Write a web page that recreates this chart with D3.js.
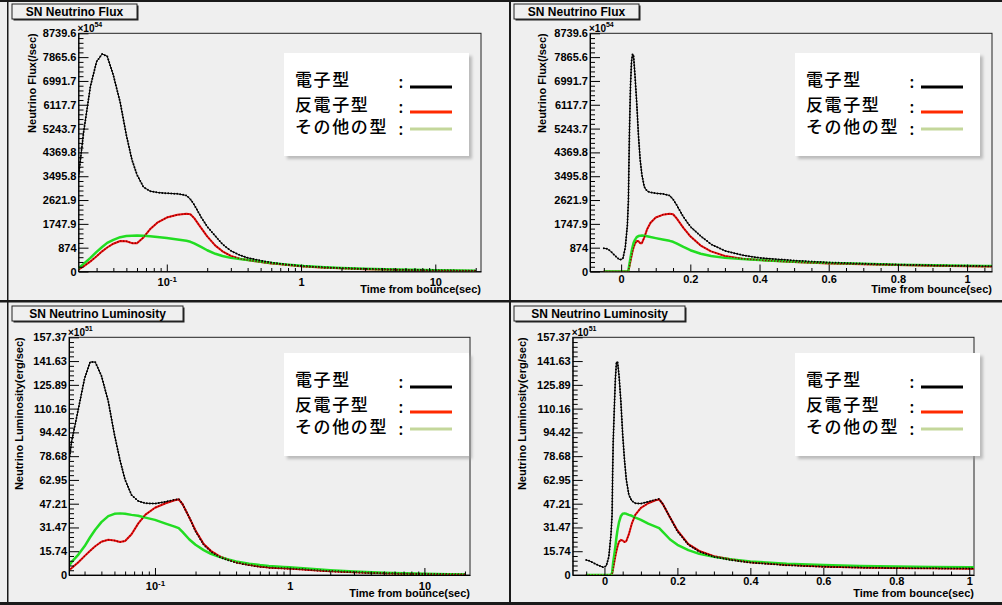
<!DOCTYPE html>
<html>
<head>
<meta charset="utf-8">
<script src="https://cdn.jsdelivr.net/npm/d3@7"></script>
<style>
  body { margin: 0; background: #efefef; }
  svg { display: block; font-family: "Liberation Sans", Arial, sans-serif; }
</style>
</head>
<body>
<div id="chart"></div>
<script>
// ---- data ----
// time after bounce (sec), shared by every series
const times = [-0.05, -0.04, -0.03, -0.02, -0.01, -0.003,
  0.005, 0.012, 0.018, 0.021, 0.0225, 0.024, 0.027, 0.030, 0.033, 0.036,
  0.040, 0.045, 0.050, 0.055, 0.060, 0.067, 0.075, 0.085, 0.10, 0.12,
  0.14, 0.15, 0.16, 0.18, 0.20, 0.23, 0.26, 0.30, 0.35, 0.40,
  0.50, 0.60, 0.70, 0.80, 0.90, 1.0, 1.05, 1.5, 2, 3, 5, 7, 10, 15, 20];

// neutrino flux (x10^54 /sec)
const fluxNue = [850, 830, 740, 610, 490, 430,
  470, 880, 1700, 2600, 3900, 5100, 6800, 7700, 7980, 7900,
  7200, 6200, 5000, 4100, 3550, 3100, 2950, 2900, 2870, 2850,
  2790, 2650, 2450, 2000, 1650, 1300, 1000, 760, 600, 500,
  400, 330, 285, 250, 225, 205, 195, 150, 125, 95, 70, 55, 42, 30, 25];
const fluxNuebar = [0, 0, 0, 0, 0, 0,
  0, 0, 0, 30, 100, 190, 370, 560, 740, 880,
  1020, 1120, 1110, 1040, 1040, 1250, 1550, 1790, 1980, 2080,
  2120, 2100, 1960, 1600, 1290, 950, 740, 570, 470, 420,
  345, 295, 262, 235, 212, 192, 185, 140, 115, 85, 60, 47, 36, 26, 21];
const fluxNux = [0, 0, 0, 0, 0, 0,
  0, 0, 0, 40, 160, 280, 500, 720, 900, 1050,
  1160, 1260, 1300, 1315, 1318, 1312, 1295, 1265, 1225, 1175,
  1125, 1090, 1030, 900, 780, 650, 570, 500, 455, 420,
  360, 315, 280, 252, 228, 208, 200, 160, 132, 102, 76, 60, 46, 35, 28];

// neutrino luminosity (x10^51 erg/sec)
const lumNue = [10, 9.2, 8, 6.8, 5.8, 5,
  6, 12, 27, 40, 68, 88, 110, 130, 141, 141,
  132, 115, 93, 76, 63, 53, 49, 47.5, 47.3, 48.5,
  49.8, 50.3, 47, 38, 29, 20, 15.5, 12, 9.8, 8.2,
  6.5, 5.5, 4.9, 4.6, 4.4, 4.3, 4.2, 3.2, 2.5, 1.8, 1.1, 0.8, 0.6, 0.4, 0.3];
const lumNuebar = [0, 0, 0, 0, 0, 0,
  0, 0, 0, 1, 2.5, 4.5, 8.5, 12.5, 16, 19,
  22, 23.3, 22.8, 21.8, 22.5, 27, 34, 40, 44.5, 47.5,
  49.5, 50, 47, 38, 29.5, 20.5, 16, 12.5, 10.2, 8.5,
  6.8, 5.7, 5.0, 4.6, 4.4, 4.2, 4.1, 3.2, 2.5, 1.8, 1.2, 0.85, 0.6, 0.42, 0.32];
const lumNux = [0, 0, 0, 0, 0, 0,
  0, 0, 0, 1.5, 5, 8.5, 13.5, 19, 25, 30,
  35, 39, 40.5, 40.8, 40.5, 39.8, 39.2, 38, 36.5, 34,
  32, 31, 28.5, 23.5, 20, 16.5, 14, 12, 10.3, 9.0,
  7.5, 6.6, 6.0, 5.6, 5.3, 5.1, 5.0, 4.0, 3.2, 2.3, 1.5, 1.1, 0.8, 0.55, 0.4];

// tick labels
const fluxTickLabels = ["0", "874", "1747.9", "2621.9", "3495.8", "4369.8",
  "5243.7", "6117.7", "6991.7", "7865.6", "8739.6"];
const lumTickLabels = ["0", "15.74", "31.47", "47.21", "62.95", "78.68",
  "94.42", "110.16", "125.89", "141.63", "157.37"];
const linTimeTicks = [0, 0.2, 0.4, 0.6, 0.8, 1];
const logTimeTicks = [0.1, 1, 10];

const seriesNames = ["電子型", "反電子型", "その他の型"];
const fluxExp = "54", lumExp = "51";

// ---- layout ----
const W = 1002, H = 605;
const svg = d3.select("#chart").append("svg")
  .attr("width", W).attr("height", H);
svg.append("rect").attr("width", W).attr("height", H).attr("fill", "#efefef");

const defs = svg.append("defs");
const blur = defs.append("filter").attr("id", "shadow")
  .attr("x", "-10%").attr("y", "-10%").attr("width", "130%").attr("height", "130%");
blur.append("feGaussianBlur").attr("stdDeviation", 1.5);

// pad borders (dark edges of the 2x2 canvas)
[[0, 0, W, 2], [0, 300, W, 2.5], [0, 602, W, 3], [7, 0, 1.5, H], [509, 0, 2, H]]
  .forEach(r => svg.append("rect").attr("x", r[0]).attr("y", r[1])
    .attr("width", r[2]).attr("height", r[3]).attr("fill", "#1a1a1a"));

const panels = [
  { id: "tl", log: true, xDomain: [0.022, 21.9], x0: 78.5, x1: 481, y0: 33.3, y1: 271.5,
    values: [fluxNue, fluxNuebar, fluxNux], labels: fluxTickLabels, exp: fluxExp,
    title: "SN Neutrino Flux", titleBox: [12, 4, 125, 15],
    yTitle: "Neutrino Flux(/sec)", yTitleX: 32, legend: [284, 53], xLabBase: 286, xTitleBase: 293 },
  { id: "tr", log: false, xDomain: [-0.090, 1.072], x0: 590, x1: 992, y0: 33.3, y1: 271.5,
    values: [fluxNue, fluxNuebar, fluxNux], labels: fluxTickLabels, exp: fluxExp,
    title: "SN Neutrino Flux", titleBox: [514, 4, 125, 15],
    yTitle: "Neutrino Flux(/sec)", yTitleX: 542, legend: [795, 53], xLabBase: 283, xTitleBase: 293 },
  { id: "bl", log: true, xDomain: [0.023, 21.8], x0: 69, x1: 470, y0: 337.3, y1: 575,
    values: [lumNue, lumNuebar, lumNux], labels: lumTickLabels, exp: lumExp,
    title: "SN Neutrino Luminosity", titleBox: [12, 306, 171, 15],
    yTitle: "Neutrino Luminosity(erg/sec)", yTitleX: 19, legend: [284, 353], xLabBase: 590, xTitleBase: 597 },
  { id: "br", log: false, xDomain: [-0.087, 1.013], x0: 572.7, x1: 974, y0: 337.3, y1: 575,
    values: [lumNue, lumNuebar, lumNux], labels: lumTickLabels, exp: lumExp,
    title: "SN Neutrino Luminosity", titleBox: [514, 306, 171, 15],
    yTitle: "Neutrino Luminosity(erg/sec)", yTitleX: 522, legend: [795, 353], xLabBase: 585, xTitleBase: 597 }
];

function styleAxis(sel) {
  sel.attr("font-family", "Liberation Sans, Arial, sans-serif")
    .attr("font-size", 11).attr("font-weight", "bold");
  sel.selectAll("line").attr("stroke", "#000");
  sel.selectAll("path").attr("stroke", "#000");
  sel.selectAll("text").attr("fill", "#000");
}

function drawPanel(p) {
  const g = svg.append("g");
  const x = p.log
    ? d3.scaleLog().domain(p.xDomain).range([p.x0, p.x1])
    : d3.scaleLinear().domain(p.xDomain).range([p.x0, p.x1]);
  const yTicks = p.labels.map(Number);
  const y = d3.scaleLinear().domain([0, yTicks[yTicks.length - 1]]).range([p.y1, p.y0]);

  // title box
  const tb = p.titleBox;
  g.append("rect").attr("x", tb[0] + 1.5).attr("y", tb[1] + 1.5)
    .attr("width", tb[2]).attr("height", tb[3]).attr("fill", "#222");
  g.append("rect").attr("x", tb[0]).attr("y", tb[1])
    .attr("width", tb[2]).attr("height", tb[3])
    .attr("fill", "#efefef").attr("stroke", "#222").attr("stroke-width", 1);
  g.append("text").attr("x", tb[0] + tb[2] / 2).attr("y", tb[1] + 12)
    .attr("text-anchor", "middle").attr("font-size", 12).attr("font-weight", "bold")
    .text(p.title);

  // frame
  g.append("rect").attr("x", p.x0).attr("y", p.y0)
    .attr("width", p.x1 - p.x0).attr("height", p.y1 - p.y0)
    .attr("fill", "none").attr("stroke", "#222").attr("stroke-width", 1);

  // curves
  const clipId = "clip-" + p.id;
  defs.append("clipPath").attr("id", clipId).append("rect")
    .attr("x", p.x0).attr("y", p.y0 - 2).attr("width", p.x1 - p.x0).attr("height", p.y1 - p.y0 + 2);
  const plot = g.append("g").attr("clip-path", `url(#${clipId})`);
  const line = d3.line().x(d => x(d[0])).y(d => y(d[1]));
  const series = p.values.map(vals => times.map((t, i) => [t, vals[i]])
    .filter(d => !p.log || d[0] > 0));
  const lineStyle = [
    { c: "#000", w: 1 },
    { c: "#ee1111", w: 2 },
    { c: "#22dd22", w: 2.5 }
  ];
  series.forEach((s, i) => {
    plot.append("path").datum(s).attr("d", line).attr("fill", "none")
      .attr("stroke", lineStyle[i].c).attr("stroke-width", lineStyle[i].w)
      .attr("stroke-linejoin", "round");
  });
  // point markers along the curves
  [{ c: "#000", w: 2 }, { c: "#8b0000", w: 1.6 }].forEach((m, i) => {
    plot.append("path").datum(series[i]).attr("d", line).attr("fill", "none")
      .attr("stroke", m.c).attr("stroke-width", m.w)
      .attr("stroke-dasharray", "0 3").attr("stroke-linecap", "round");
  });

  // y axis: minor then major ticks (ticks pointing into the frame)
  const yMinor = [];
  for (let i = 0; i < yTicks.length - 1; i++)
    for (let k = 1; k < 5; k++) yMinor.push(yTicks[i] + (yTicks[i + 1] - yTicks[i]) * k / 5);
  g.append("g").attr("transform", `translate(${p.x0},0)`)
    .call(d3.axisLeft(y).tickValues(yMinor).tickSize(-5).tickFormat(""))
    .call(a => a.select(".domain").remove())
    .call(styleAxis);
  const labelOf = new Map(yTicks.map((v, i) => [v, p.labels[i]]));
  g.append("g").attr("transform", `translate(${p.x0},0)`)
    .call(d3.axisLeft(y).tickValues(yTicks).tickSize(-10).tickSizeOuter(0)
      .tickPadding(2).tickFormat(d => labelOf.get(d)))
    .call(styleAxis);

  // x axis
  let xMajor, xMinor;
  if (p.log) {
    xMajor = logTimeTicks;
    xMinor = [];
    [0.01, 0.1, 1, 10].forEach(dec => { for (let k = 2; k <= 9; k++) xMinor.push(dec * k); });
    xMinor = xMinor.filter(v => v >= p.xDomain[0] && v <= p.xDomain[1]);
  } else {
    xMajor = linTimeTicks;
    xMinor = d3.range(-0.05, 1.06, 0.05).map(v => +v.toFixed(2))
      .filter(v => v >= p.xDomain[0] && v <= p.xDomain[1] && !xMajor.includes(v));
  }
  g.append("g").attr("transform", `translate(0,${p.y1})`)
    .call(d3.axisBottom(x).tickValues(xMinor).tickSize(-3.5).tickFormat(""))
    .call(a => a.select(".domain").remove())
    .call(styleAxis);
  const xa = g.append("g").attr("transform", `translate(0,${p.y1})`)
    .call(d3.axisBottom(x).tickValues(xMajor).tickSize(-7).tickSizeOuter(0)
      .tickFormat(d => d === 0.1 ? "10" : String(d)))
    .call(styleAxis);
  xa.selectAll(".tick text").attr("dy", null).attr("y", p.xLabBase - p.y1)
    .each(function(d) {
      if (d === 0.1) {
        d3.select(this).append("tspan").attr("dy", -4.5).attr("font-size", 8).text("-1");
      }
    });

  // axis titles
  g.append("text").attr("x", p.x1).attr("y", p.xTitleBase)
    .attr("text-anchor", "end").attr("font-size", 11).attr("font-weight", "bold")
    .text("Time from bounce(sec)");
  g.append("text").attr("transform", `translate(${p.yTitleX},${p.y0}) rotate(-90)`)
    .attr("dy", "0.35em").attr("text-anchor", "end")
    .attr("font-size", 11).attr("font-weight", "bold").text(p.yTitle);

  // exponent
  const ex = g.append("text").attr("x", p.x0 - 1).attr("y", p.y0 - 1)
    .attr("font-size", 10).attr("font-weight", "bold").text("×10");
  ex.append("tspan").attr("dy", -5).attr("font-size", 7).text(p.exp);

  // legend
  const [lx, ly] = p.legend;
  const lg = g.append("g").attr("transform", `translate(${lx},${ly})`);
  lg.append("rect").attr("x", 3).attr("y", 3).attr("width", 185).attr("height", 103)
    .attr("fill", "#999").attr("opacity", 0.6).attr("filter", "url(#shadow)");
  lg.append("rect").attr("width", 185).attr("height", 103).attr("fill", "#fff");
  const rowY = [27, 52, 74];
  const lineY = [34, 59, 76];
  const legColor = ["#000", "#ff2a00", "#c4d79b"];
  seriesNames.forEach((name, i) => {
    lg.append("text").attr("x", 11).attr("y", rowY[i]).attr("dy", "0.36em")
      .attr("font-family", "Noto Sans CJK JP").attr("font-size", 17)
      .attr("font-weight", 500).attr("letter-spacing", "1.6px")
      .attr("fill", "#000").text(name);
    lg.append("text").attr("x", 117).attr("y", rowY[i] + 2).attr("dy", "0.36em")
      .attr("text-anchor", "middle").attr("font-family", "Noto Sans CJK JP")
      .attr("font-size", 16).attr("font-weight", 500).attr("fill", "#000").text(":");
    lg.append("line").attr("x1", 126).attr("x2", 168)
      .attr("y1", lineY[i]).attr("y2", lineY[i])
      .attr("stroke", legColor[i]).attr("stroke-width", 3);
  });
}

panels.forEach(drawPanel);
</script>
</body>
</html>
